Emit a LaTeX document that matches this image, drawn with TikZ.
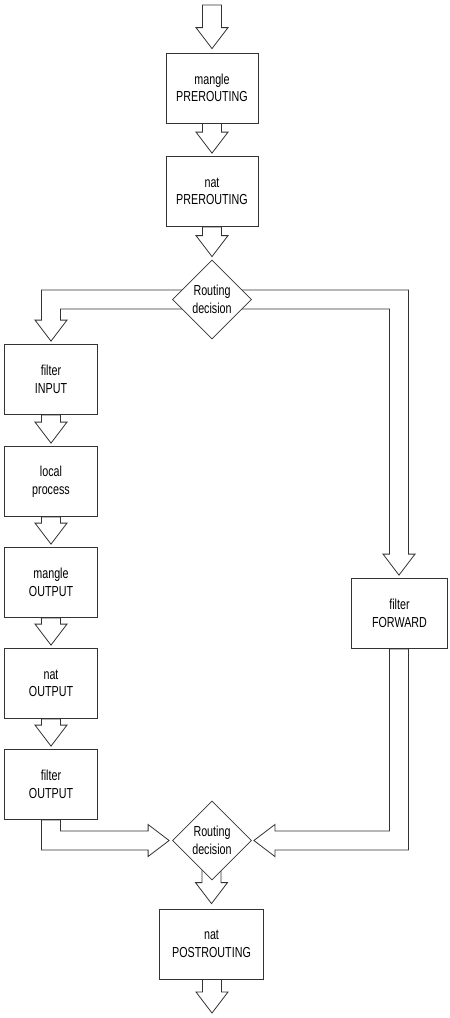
\documentclass[tikz,border=0pt]{standalone}
\usepackage{fontspec}
\setmainfont{Liberation Sans}[FakeStretch=0.74]
\usetikzlibrary{shapes.geometric,calc,backgrounds}
\newcommand\fatdownto[2]{%
  \draw[fat] let \p1=(#1), \p2=(#2) in
    (\x2-9.5pt,\y1) -- (\x2-9.5pt,\y2+21pt) -- (\x2-16pt,\y2+21pt) -- (\x2,\y2)
    -- (\x2+16pt,\y2+21pt) -- (\x2+9.5pt,\y2+21pt) -- (\x2+9.5pt,\y1) -- cycle;}
\begin{document}
\begin{tikzpicture}[x=1pt,y=-1pt,
  box/.style={draw=black!80,line width=0.8pt,fill=white,minimum width=92pt,minimum height=70pt,
    align=center,inner sep=0pt,font=\fontsize{14.5}{17.5}\selectfont},
  dec/.style={draw=black!80,line width=0.8pt,fill=white,diamond,aspect=1,minimum width=79pt,
    minimum height=79pt,inner sep=0pt,align=center,font=\fontsize{14.5}{17.5}\selectfont},
  fat/.style={draw=black!80,line width=0.8pt,fill=white,line join=miter}]
\useasboundingbox (0,0) rectangle (450,1018);
\node[box] (mpre) at (212,88) {mangle\\PREROUTING};
\node[box] (npre) at (212,191.5) {nat\\PREROUTING};
\node[dec] (rd1) at (212,299.5) {Routing\\decision};
\node[box,minimum width=93pt] (fin) at (51,379.5) {filter\\INPUT};
\node[box,minimum width=93pt] (lp) at (51,481.5) {local\\process};
\node[box,minimum width=93pt] (mout) at (51,582.5) {mangle\\OUTPUT};
\node[box,minimum width=93pt] (nout) at (51,683.5) {nat\\OUTPUT};
\node[box,minimum width=93pt] (fout) at (51,784.5) {filter\\OUTPUT};
\node[box,minimum width=96pt] (ffwd) at (399.5,613.5) {filter\\FORWARD};
\node[dec] (rd2) at (212,840.5) {Routing\\decision};
\node[box,minimum width=104pt] (npost) at (211.5,944) {nat\\POSTROUTING};
\coordinate (in) at (212,5);
\coordinate (out) at (212,1013);
\begin{scope}[on background layer]
\fatdownto{in}{$(mpre.north)+(0,-4)$}
\fatdownto{mpre.south}{$(npre.north)+(0,-3)$}
\fatdownto{npre.south}{$(rd1.north)+(0,-3)$}
\fatdownto{fin.south}{$(lp.north)+(0,-3)$}
\fatdownto{lp.south}{$(mout.north)+(0,-3)$}
\fatdownto{mout.south}{$(nout.north)+(0,-3)$}
\fatdownto{nout.south}{$(fout.north)+(0,-3)$}
\fatdownto{rd2.center}{$(npost.north)+(0,-5)$}
\fatdownto{npost.south}{out}
% left branch
\draw[fat] let \p1=(rd1), \p2=(fin.north) in
  (\x1,\y1+9.5pt) -- (\x2-9.5pt,\y1+9.5pt) -- (\x2-9.5pt,\y2+24pt) -- (\x2-16pt,\y2+24pt)
  -- (\x2,\y2+3pt) -- (\x2+16pt,\y2+24pt) -- (\x2+9.5pt,\y2+24pt) -- (\x2+9.5pt,\y1-9.5pt)
  -- (\x1,\y1-9.5pt) -- cycle;
% right branch
\draw[fat] let \p1=(rd1), \p2=($(ffwd.north)+(-0.5,0)$) in
  (\x1,\y1+9.5pt) -- (\x2+9.5pt,\y1+9.5pt) -- (\x2+9.5pt,\y2+24pt) -- (\x2+16pt,\y2+24pt)
  -- (\x2,\y2+3pt) -- (\x2-16pt,\y2+24pt) -- (\x2-9.5pt,\y2+24pt) -- (\x2-9.5pt,\y1-9.5pt)
  -- (\x1,\y1-9.5pt) -- cycle;
% left merge
\draw[fat] let \p1=(fout.south), \p2=(rd2.west) in
  (\x1-9.5pt,\y1) -- (\x1-9.5pt,\y2-9.5pt) -- (\x2-24pt,\y2-9.5pt) -- (\x2-24pt,\y2-16pt)
  -- (\x2-3pt,\y2) -- (\x2-24pt,\y2+16pt) -- (\x2-24pt,\y2+9.5pt) -- (\x1+9.5pt,\y2+9.5pt)
  -- (\x1+9.5pt,\y1) -- cycle;
% right merge
\draw[fat] let \p1=($(ffwd.south)+(-0.5,0)$), \p2=(rd2.east) in
  (\x1+9.5pt,\y1) -- (\x1+9.5pt,\y2-9.5pt) -- (\x2+23pt,\y2-9.5pt) -- (\x2+23pt,\y2-16pt)
  -- (\x2+2pt,\y2) -- (\x2+23pt,\y2+16pt) -- (\x2+23pt,\y2+9.5pt) -- (\x1-9.5pt,\y2+9.5pt)
  -- (\x1-9.5pt,\y1) -- cycle;
\end{scope}
\end{tikzpicture}
\end{document}
